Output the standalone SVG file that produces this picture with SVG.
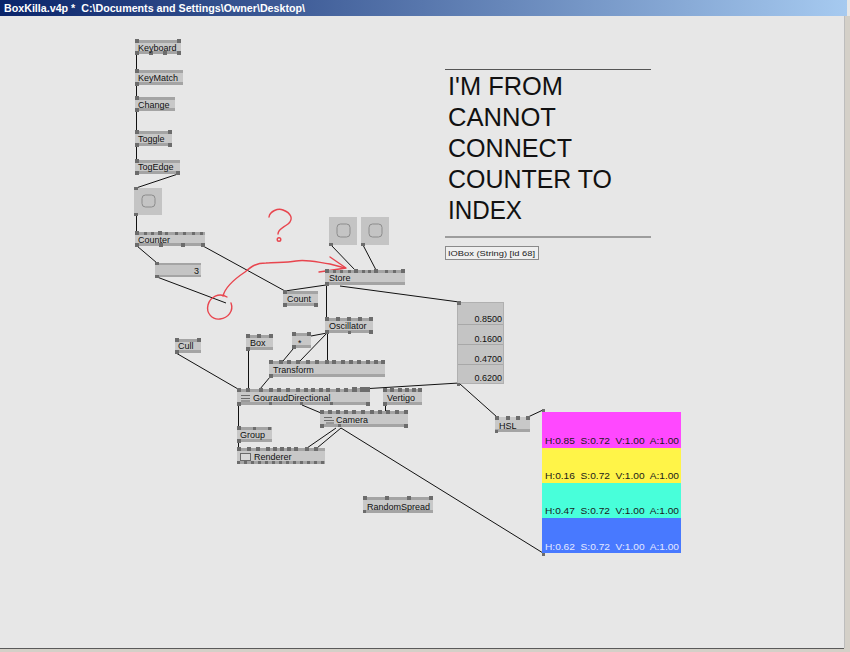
<svg xmlns="http://www.w3.org/2000/svg" width="850" height="652" viewBox="0 0 850 652">
<defs>
<linearGradient id="tb" x1="0" y1="0" x2="1" y2="0">
<stop offset="0" stop-color="#0A246A"/>
<stop offset="1" stop-color="#A6CAF0"/>
</linearGradient>
<style>
.body{fill:#C8C8C8}
.band{fill:#A4A4A4}
.pin{fill:#6C6C6C}
.lbl{font-family:"Liberation Sans",Arial,sans-serif;font-size:9px;fill:#101010}
.val{font-family:"Liberation Sans",Arial,sans-serif;font-size:9px;fill:#101010;text-anchor:end}
.big{font-family:"Liberation Sans",Arial,sans-serif;font-size:25px;fill:#111}
.hsv{font-family:"Liberation Sans",Arial,sans-serif;font-size:8.5px;fill:#1A1A1A;white-space:pre}
.ln{stroke:#111;stroke-width:1;fill:none}
.red{stroke:#E8454E;stroke-width:1.4;fill:none;stroke-linecap:round;stroke-linejoin:round}
.tog{fill:#C4C4C4}
.togi{fill:none;stroke:#8C8C8C;stroke-width:1}
</style>
</defs>
<rect x="0" y="0" width="850" height="652" fill="#E7E7E7"/>
<rect x="0" y="0" width="847" height="16" fill="url(#tb)"/>
<text x="4" y="12" font-family="Liberation Sans,Arial,sans-serif" font-size="11" font-weight="bold" fill="#FFFFFF" textLength="301" lengthAdjust="spacingAndGlyphs" style="white-space:pre">BoxKilla.v4p *  C:\Documents and Settings\Owner\Desktop\</text>
<rect x="844" y="16" width="6" height="636" fill="#D4D0C8"/>
<line x1="844.5" y1="16" x2="844.5" y2="648" stroke="#BDBDBD"/>
<rect x="0" y="648" width="850" height="4" fill="#D4D0C8"/>
<line x1="0" y1="648.5" x2="844" y2="648.5" stroke="#5A5A5A"/>

<g id="connectors">
<path class="ln" d="M136.5 54V70 M136.5 85V97 M136.5 111V131 M136.5 146V160 M178 174L136 188 M136.5 215V232"/>
<path class="ln" d="M137 246L157 263 M203 246L285 291 M157 277L226 303"/>
<path class="ln" d="M331 245L355 270 M363 245L376 270 M326 285L285 291 M326.5 285V318 M340 286L459 302"/>
<path class="ln" d="M327 333L311 336 M293 349L283 361 M327 333L300 361 M327.5 333V361"/>
<path class="ln" d="M248.5 350V389 M176 353L238 389 M270 377L260 389 M459 383L345 390"/>
<path class="ln" d="M302 405L321 413 M385.5 405V411 M238.5 405V427 M238.5 442V448"/>
<path class="ln" d="M336 428L307 448 M341 428L317 448 M341 428L543 553"/>
<path class="ln" d="M460 384L497 417 M528 417L543 410"/>
</g>

<g id="annotation">
<path class="red" d="M269 217C270 211 278 208 283 210C291 213 294 219 288 224C283 228 278 229 278 234"/>
<circle cx="279" cy="239.5" r="1.8" class="red"/>
<path class="red" d="M223 296C225 288 233 280 245 272C252 266 256 263 266 263C276 262 285 263 296 261C306 259 316 262 330 264L345 268"/>
<path class="red" d="M330 257L346 268L319 272"/>
<path class="red" d="M227 297C219 292 210 297 208 305C206 313 212 320 220 319C228 318 234 311 231 303"/>
</g>

<g id="keyboard">
<rect class="body" x="135" y="40" width="46" height="14"/>
<rect class="band" x="135" y="40" width="46" height="3"/><rect class="band" x="135" y="51" width="46" height="3"/>
<path class="pin" d="M135 39h4v4h-4z M177 39h4v4h-4z M135 51h4v4h-4z M149 51h4v4h-4z M163 51h4v4h-4z M177 51h4v4h-4z"/>
<text class="lbl" x="138" y="50.5">Keyboard</text>
</g>
<g id="keymatch">
<rect class="body" x="135" y="70" width="48" height="15"/>
<rect class="band" x="135" y="70" width="48" height="3"/><rect class="band" x="135" y="82" width="48" height="3"/>
<path class="pin" d="M135 69h4v4h-4z M135 82h4v4h-4z"/>
<text class="lbl" x="138" y="81">KeyMatch</text>
</g>
<g id="change">
<rect class="body" x="135" y="97" width="40" height="14"/>
<rect class="band" x="135" y="97" width="40" height="3"/><rect class="band" x="135" y="108" width="40" height="3"/>
<path class="pin" d="M135 96h4v4h-4z M135 108h4v4h-4z"/>
<text class="lbl" x="138" y="107.5">Change</text>
</g>
<g id="toggle">
<rect class="body" x="135" y="131" width="37" height="15"/>
<rect class="band" x="135" y="131" width="37" height="3"/><rect class="band" x="135" y="143" width="37" height="3"/>
<path class="pin" d="M135 130h4v4h-4z M168 130h4v4h-4z M135 143h4v4h-4z M168 143h4v4h-4z"/>
<text class="lbl" x="138" y="142">Toggle</text>
</g>
<g id="togedge">
<rect class="body" x="135" y="160" width="45" height="14"/>
<rect class="band" x="135" y="160" width="45" height="3"/><rect class="band" x="135" y="171" width="45" height="3"/>
<path class="pin" d="M135 159h4v4h-4z M135 171h4v4h-4z M176 171h4v4h-4z"/>
<text class="lbl" x="138" y="170">TogEdge</text>
</g>
<g id="bang1">
<rect class="tog" x="134" y="188" width="28" height="27"/>
<rect class="togi" x="142" y="195" width="13" height="12" rx="3.5"/>
<path class="pin" d="M134 187h4v3h-4z M134 213h4v3h-4z"/>
</g>
<g id="counter">
<rect class="body" x="135" y="232" width="70" height="14"/>
<rect class="band" x="135" y="232" width="70" height="3"/><rect class="band" x="135" y="243" width="70" height="3"/>
<path class="pin" d="M135 231h4v4h-4z M144 232h3v3h-3z M151 232h3v3h-3z M158 231h4v4h-4z M165 232h3v3h-3z M175 232h3v3h-3z M183 232h3v3h-3z M192 232h3v3h-3z M200 232h3v3h-3z M135 243h4v4h-4z M159 243h4v4h-4z M181 243h4v4h-4z M201 243h4v4h-4z"/>
<text class="lbl" x="138" y="242.5">Counter</text>
</g>
<g id="value3">
<rect class="tog" x="155" y="263" width="46" height="14"/>
<rect class="band" x="155" y="263" width="46" height="2"/><rect class="band" x="155" y="275" width="46" height="2"/>
<path class="pin" d="M155 262h4v3h-4z M155 275h4v3h-4z"/>
<text class="val" x="199" y="273.5">3</text>
</g>
<g id="count">
<rect class="body" x="283" y="291" width="35" height="15"/>
<rect class="band" x="283" y="291" width="35" height="3"/><rect class="band" x="283" y="303" width="35" height="3"/>
<path class="pin" d="M283 290h4v4h-4z M283 303h4v4h-4z M314 303h4v4h-4z"/>
<text class="lbl" x="287" y="302">Count</text>
</g>
<g id="bang2">
<rect class="tog" x="329" y="217" width="28" height="28"/>
<rect class="togi" x="337" y="224" width="13" height="13" rx="3.5"/>
<path class="pin" d="M329 243h4v3h-4z"/>
</g>
<g id="bang3">
<rect class="tog" x="361" y="217" width="28" height="28"/>
<rect class="togi" x="369" y="224" width="13" height="13" rx="3.5"/>
<path class="pin" d="M361 243h4v3h-4z"/>
</g>
<g id="store">
<rect class="body" x="325" y="270" width="80" height="15"/>
<rect class="band" x="325" y="270" width="80" height="3"/><rect class="band" x="325" y="282" width="80" height="3"/>
<path class="pin" d="M325 269h4v4h-4z M333 270h3v3h-3z M340 270h3v3h-3z M348 270h3v3h-3z M354 269h4v4h-4z M362 270h3v3h-3z M368 270h3v3h-3z M374 269h4v4h-4z M385 270h3v3h-3z M393 270h3v3h-3z M401 269h4v4h-4z M325 282h4v4h-4z"/>
<text class="lbl" x="329" y="281">Store</text>
</g>
<g id="oscillator">
<rect class="body" x="325" y="318" width="48" height="15"/>
<rect class="band" x="325" y="318" width="48" height="3"/><rect class="band" x="325" y="330" width="48" height="3"/>
<path class="pin" d="M325 317h4v4h-4z M336 317h4v4h-4z M347 317h4v4h-4z M358 317h4v4h-4z M369 317h4v4h-4z M325 330h4v4h-4z M348 331h3v3h-3z M369 330h4v4h-4z"/>
<text class="lbl" x="329" y="329">Oscillator</text>
</g>
<g id="cull">
<rect class="body" x="175" y="339" width="26" height="14"/>
<rect class="band" x="175" y="339" width="26" height="3"/><rect class="band" x="175" y="350" width="26" height="3"/>
<path class="pin" d="M175 338h4v4h-4z M197 338h4v4h-4z M175 350h4v4h-4z"/>
<text class="lbl" x="178" y="349">Cull</text>
</g>
<g id="box">
<rect class="body" x="246" y="335" width="27" height="15"/>
<rect class="band" x="246" y="335" width="27" height="3"/><rect class="band" x="246" y="347" width="27" height="3"/>
<path class="pin" d="M246 334h4v4h-4z M257 334h4v4h-4z M269 334h4v4h-4z M246 347h4v4h-4z"/>
<text class="lbl" x="250" y="346">Box</text>
</g>
<g id="multiply">
<rect class="body" x="292" y="333" width="19" height="15"/>
<rect class="band" x="292" y="333" width="19" height="3"/><rect class="band" x="292" y="345" width="19" height="3"/>
<path class="pin" d="M292 332h4v4h-4z M307 332h4v4h-4z M292 345h4v4h-4z"/>
<text class="lbl" x="298" y="346">*</text>
</g>
<g id="transform">
<rect class="body" x="269" y="361" width="116" height="16"/>
<rect class="band" x="269" y="361" width="116" height="3"/><rect class="band" x="269" y="374" width="116" height="3"/>
<path class="pin" d="M269 360h4v4h-4z M279 360h4v4h-4z M287 360h4v4h-4z M296 360h4v4h-4z M306 360h4v4h-4z M315 360h4v4h-4z M325 360h4v4h-4z M332 360h4v4h-4z M341 360h4v4h-4z M349 360h4v4h-4z M357 360h4v4h-4z M366 360h4v4h-4z M374 360h4v4h-4z M381 360h4v4h-4z M269 374h4v4h-4z"/>
<text class="lbl" x="273" y="373">Transform</text>
</g>
<g id="gouraud">
<rect class="body" x="237" y="389" width="133" height="16"/>
<rect class="band" x="237" y="389" width="133" height="3"/><rect class="band" x="237" y="402" width="133" height="3"/>
<path class="pin" d="M237 388h4v4h-4z M246 388h4v4h-4z M259 388h4v4h-4z M269 388h4v4h-4z M277 388h4v4h-4z M286 388h4v4h-4z M296 388h4v4h-4z M304 388h4v4h-4z M311 388h4v4h-4z M319 388h4v4h-4z M326 388h4v4h-4z M336 388h4v4h-4z M344 388h4v4h-4z M352 387h5v5h-5z M360 387h5v5h-5z M365 387h5v5h-5z M237 402h4v4h-4z M269 402h3v3h-3z M300 402h3v3h-3z M330 402h3v3h-3z M366 402h4v4h-4z"/>
<path d="M241 395.5h9 M241 398.5h9 M241 401h9" stroke="#6A6A6A" stroke-width="1"/>
<text class="lbl" x="253" y="401">GouraudDirectional</text>
</g>
<g id="vertigo">
<rect class="body" x="383" y="389" width="39" height="16"/>
<rect class="band" x="383" y="389" width="39" height="3"/><rect class="band" x="383" y="402" width="39" height="3"/>
<path class="pin" d="M383 388h4v4h-4z M390 388h4v4h-4z M398 388h4v4h-4z M405 388h4v4h-4z M412 388h4v4h-4z M418 388h4v4h-4z M383 402h4v4h-4z"/>
<text class="lbl" x="387" y="401">Vertigo</text>
</g>
<g id="camera">
<rect class="body" x="320" y="411" width="88" height="16"/>
<rect class="band" x="320" y="411" width="88" height="3"/><rect class="band" x="320" y="424" width="88" height="3"/>
<path class="pin" d="M320 410h4v4h-4z M328 410h4v4h-4z M336 410h4v4h-4z M344 410h4v4h-4z M352 410h4v4h-4z M361 410h4v4h-4z M370 410h4v4h-4z M378 410h4v4h-4z M386 410h4v4h-4z M395 410h4v4h-4z M404 410h4v4h-4z M320 424h4v4h-4z M338 424h3v3h-3z M404 424h4v4h-4z"/>
<path d="M324 417.5h8 M324 420.5h10 M326 423h8" stroke="#6A6A6A" stroke-width="1"/>
<text class="lbl" x="336" y="423">Camera</text>
</g>
<g id="group">
<rect class="body" x="237" y="427" width="35" height="15"/>
<rect class="band" x="237" y="427" width="35" height="3"/><rect class="band" x="237" y="439" width="35" height="3"/>
<path class="pin" d="M237 426h4v4h-4z M253 427h3v3h-3z M268 427h3v3h-3z M237 439h4v4h-4z"/>
<text class="lbl" x="240" y="438">Group</text>
</g>
<g id="renderer">
<rect class="body" x="237" y="448" width="88" height="16"/>
<rect class="band" x="237" y="448" width="88" height="3"/><rect class="band" x="237" y="461" width="88" height="3"/>
<path class="pin" d="M237 447h4v4h-4z M247 447h4v4h-4z M256 447h4v4h-4z M266 447h4v4h-4z M273 447h4v4h-4z M280 447h4v4h-4z M287 447h4v4h-4z M294 447h4v4h-4z M305 447h4v4h-4z M314 447h4v4h-4z M237 461h3v3h-3z M244 461h3v3h-3z M251 461h3v3h-3z M258 461h3v3h-3z M265 461h3v3h-3z M272 461h3v3h-3z M279 461h3v3h-3z M286 461h3v3h-3z M293 461h3v3h-3z M300 461h3v3h-3z M307 461h3v3h-3z M314 461h3v3h-3z M321 461h3v3h-3z"/>
<rect x="240.5" y="453.5" width="10" height="7" fill="#D8D8D8" stroke="#6A6A6A"/>
<text class="lbl" x="254" y="460">Renderer</text>
</g>
<g id="randomspread">
<rect class="body" x="363" y="497" width="70" height="16"/>
<rect class="band" x="363" y="497" width="70" height="3"/><rect class="band" x="363" y="510" width="70" height="3"/>
<path class="pin" d="M363 496h4v4h-4z M385 496h4v4h-4z M407 496h4v4h-4z M429 496h4v4h-4z M363 510h3v3h-3z"/>
<text class="lbl" x="367" y="509.5">RandomSpread</text>
</g>
<g id="hsl">
<rect class="body" x="495" y="417" width="35" height="15"/>
<rect class="band" x="495" y="429" width="35" height="3"/>
<path class="pin" d="M495 416h4v4h-4z M506 416h4v4h-4z M516 416h4v4h-4z M526 416h4v4h-4z M495 430h3v3h-3z"/>
<text class="lbl" x="499" y="428.5">HSL</text>
</g>
<g id="valuespread">
<rect class="tog" x="457" y="302" width="47" height="82"/>
<path d="M457 324.5h47 M457 344.5h47 M457 364.5h47" stroke="#A8A8A8"/>
<rect x="457.5" y="302.5" width="46" height="81" fill="none" stroke="#B0B0B0"/>
<path class="pin" d="M457 301h4v4h-4z M457 383h3v3h-3z"/>
<text class="val" x="502" y="322">0.8500</text>
<text class="val" x="502" y="342">0.1600</text>
<text class="val" x="502" y="362">0.4700</text>
<text class="val" x="502" y="381">0.6200</text>
</g>
<g id="colors">
<rect x="542" y="412" width="139" height="36" fill="#FF48FF"/>
<rect x="542" y="448" width="139" height="35" fill="#FFF448"/>
<rect x="542" y="483" width="139" height="35" fill="#48FFDA"/>
<rect x="542" y="518" width="139" height="35" fill="#4879FF"/>
<path class="pin" d="M542 409h3v3h-3z M542 553h3v3h-3z"/>
<text class="hsv" x="545" y="444" textLength="134" lengthAdjust="spacingAndGlyphs">H:0.85  S:0.72  V:1.00  A:1.00</text>
<text class="hsv" x="545" y="479" textLength="134" lengthAdjust="spacingAndGlyphs">H:0.16  S:0.72  V:1.00  A:1.00</text>
<text class="hsv" x="545" y="514" textLength="134" lengthAdjust="spacingAndGlyphs">H:0.47  S:0.72  V:1.00  A:1.00</text>
<text class="hsv" x="545" y="550" textLength="134" lengthAdjust="spacingAndGlyphs" style="fill:#E4E8FF">H:0.62  S:0.72  V:1.00  A:1.00</text>
</g>
<g id="stringbox">
<line x1="445" y1="69.5" x2="651" y2="69.5" stroke="#555" stroke-width="1.2"/>
<line x1="445" y1="237" x2="651" y2="237" stroke="#555" stroke-width="1.2"/>
<text class="big" x="448" y="95" textLength="115" lengthAdjust="spacingAndGlyphs">I'M FROM</text>
<text class="big" x="448" y="126" textLength="108" lengthAdjust="spacingAndGlyphs">CANNOT</text>
<text class="big" x="448" y="157" textLength="124" lengthAdjust="spacingAndGlyphs">CONNECT</text>
<text class="big" x="448" y="188" textLength="164" lengthAdjust="spacingAndGlyphs">COUNTER TO</text>
<text class="big" x="448" y="219" textLength="74" lengthAdjust="spacingAndGlyphs">INDEX</text>
<rect x="445.5" y="246.5" width="93" height="13" fill="#EFEFEF" stroke="#8A8A8A"/>
<text x="448" y="256" font-family="Liberation Sans,Arial,sans-serif" font-size="7.5" fill="#222" textLength="87" lengthAdjust="spacingAndGlyphs">IOBox (String) [id 68]</text>
</g>
</svg>
